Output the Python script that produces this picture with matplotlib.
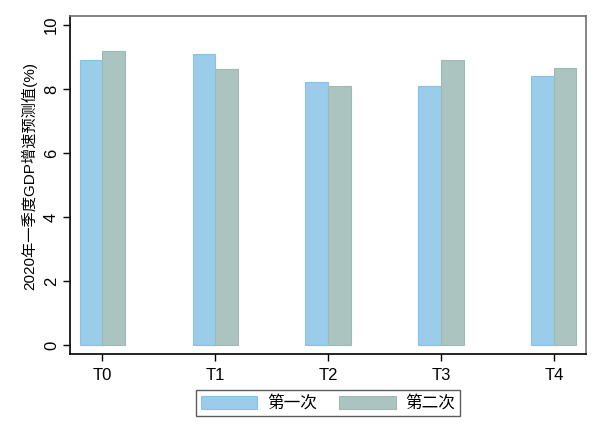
import matplotlib
matplotlib.use("Agg")
import matplotlib.pyplot as plt
import numpy as np

plt.rcParams['font.family'] = ['Liberation Sans', 'Noto Sans CJK SC', 'DejaVu Sans']

# data
CATEGORIES = ["T0", "T1", "T2", "T3", "T4"]
FIRST = [8.90, 9.09, 8.23, 8.09, 8.40]
SECOND = [9.19, 8.62, 8.09, 8.92, 8.66]
SERIES_NAMES = ["第一次", "第二次"]
Y_TICKS = [0, 2, 4, 6, 8, 10]
Y_LABEL = "2020年一季度GDP增速预测值(%)"

BLUE = "#9bcdeb"
BLUE_EDGE = "#86c2e8"
GREEN = "#abc4bf"
GREEN_EDGE = "#9dbab4"
BAR_W = 0.2

fig = plt.figure(figsize=(6.02, 4.38), dpi=100)
ax = fig.add_axes([70 / 602, 1 - 354.3 / 438, (585.7 - 70) / 602, (354.3 - 16) / 438])

x = np.arange(len(CATEGORIES))
ax.bar(x - BAR_W / 2, FIRST, BAR_W, color=BLUE, edgecolor=BLUE_EDGE, linewidth=0.8,
       label=SERIES_NAMES[0])
ax.bar(x + BAR_W / 2, SECOND, BAR_W, color=GREEN, edgecolor=GREEN_EDGE, linewidth=0.8,
       label=SERIES_NAMES[1])

ax.set_xlim(-0.286, 4.282)
ax.set_ylim(-0.29, 10.28)
ax.set_xticks(x)
ax.set_xticklabels(CATEGORIES, fontsize=12)
ax.set_yticks(Y_TICKS)
ax.set_yticklabels([str(v) for v in Y_TICKS], fontsize=12, rotation=90, va="center")
ax.tick_params(axis="both", direction="out", length=5, width=1, color="black")
ax.tick_params(axis="x", pad=5)
ax.tick_params(axis="y", pad=3)
ax.set_ylabel(Y_LABEL, fontsize=11)
# put the label where the reference has it (x centre ~29px, y centre ~176px)
ax.yaxis.set_label_coords((29 - 70) / (585.7 - 70), (354.3 - 176) / (354.3 - 16))
ax.yaxis.label.set_va("center")

for side in ("left", "bottom"):
    ax.spines[side].set_color("black")
    ax.spines[side].set_linewidth(1.2)
for side in ("top", "right"):
    ax.spines[side].set_color("#6e6e6e")
    ax.spines[side].set_linewidth(1.2)

leg = fig.legend(loc="center", bbox_to_anchor=(328 / 602, 1 - 403 / 438), ncol=2,
                 fontsize=12, frameon=True, fancybox=False, edgecolor="#333333",
                 handlelength=3.4, handleheight=0.85, columnspacing=1.3,
                 handletextpad=0.6, borderpad=0.3, borderaxespad=0)
leg.get_frame().set_linewidth(1.0)

fig.savefig("out.png", dpi=100)
